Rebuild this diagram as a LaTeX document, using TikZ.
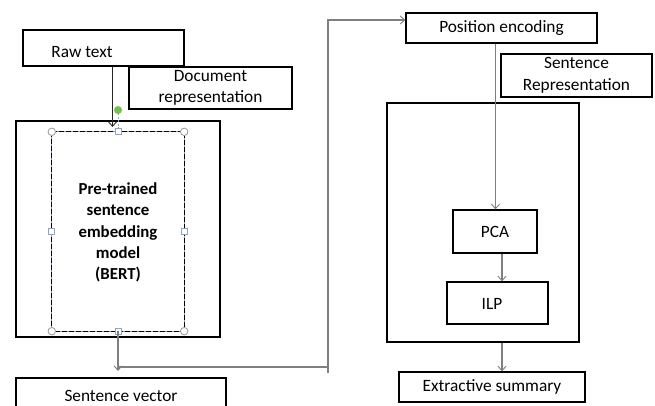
\documentclass[tikz,border=0pt]{standalone}
\usepackage{fontspec}
\setmainfont{Carlito}
\usetikzlibrary{arrows.meta}
\definecolor{linkgray}{HTML}{7F7F7F}
\definecolor{handleblue}{HTML}{8EA4C0}
\definecolor{handlegreen}{HTML}{74C04E}
\tikzset{
  box/.style={draw=black, line width=1.3pt, inner sep=0pt, font=\fontsize{17.3}{21.5}\selectfont, align=center},
  plain/.style={inner sep=0pt, font=\fontsize{17.3}{21.5}\selectfont, align=center},
  link/.style={draw=linkgray, line width=1.1pt, -{Straight Barb[length=4.5pt,width=8pt,line width=0.9pt]}},
  darklink/.style={draw=black!85, line width=0.9pt, -{Straight Barb[length=4.5pt,width=8pt,line width=0.9pt]}},
  cornerhandle/.style={circle, draw=linkgray!80, fill=white, line width=0.8pt, minimum size=7.5pt, inner sep=0pt},
  sidehandle/.style={rectangle, draw=handleblue, fill=white, line width=0.9pt, minimum size=6pt, inner sep=0pt},
}
\begin{document}
\begin{tikzpicture}[x=1pt,y=-1pt]
\useasboundingbox (0,0) rectangle (655,406);
\begin{scope}
\clip (0,0) rectangle (655,406);

% left column
\node[box, minimum width=161pt, minimum height=36pt] (raw) at (103.5,48) {};
\node[plain] (rawlabel) at (82,52) {Raw text};
\node[box, minimum width=163pt, minimum height=42pt] (docrep) at (210.5,88) {Document\\representation};
\node[box, minimum width=204pt, minimum height=216pt] (encoder) at (118,229) {};
\node[minimum width=132pt, minimum height=199pt, inner sep=0pt] (bert) at (118,231.5) {};
\draw[handleblue, line width=0.9pt] (bert.north west) rectangle (bert.south east);
\draw[black, line width=1pt, dash pattern=on 5pt off 2pt] (bert.north west) rectangle (bert.south east);
\node[plain, font=\fontsize{16.8}{21.2}\selectfont\bfseries] (bertlabel) at (118,232.5)
  {Pre-trained\\sentence\\embedding\\model\\(BERT)};
\node[box, minimum width=210pt, minimum height=36pt] (sentvec) at (121,396) {Sentence vector};

% selection handles of the model box
\coordinate (rot) at (118,110);
\draw[handleblue, line width=0.9pt, dash pattern=on 2pt off 1.5pt] (rot) -- (bert.north);
\node[circle, fill=handlegreen, minimum size=8pt, inner sep=0pt] (rothandle) at (rot) {};
\foreach \c in {north west, north east, south west, south east}
  \node[cornerhandle] at (bert.\c) {};
\foreach \s in {north, south, west, east}
  \node[sidehandle] at (bert.\s) {};

% right column
\node[box, minimum width=191pt, minimum height=30pt] (posenc) at (501.5,28) {Position encoding};
\node[box, minimum width=151pt, minimum height=43pt] (sentrep) at (576.5,75.5) {Sentence\\Representation};
\node[box, minimum width=192pt, minimum height=239pt] (selector) at (483,222.5) {};
\node[box, minimum width=84pt, minimum height=43pt] (pca) at (495,231.5) {PCA};
\node[box, minimum width=101pt, minimum height=42pt] (ilp) at (497.5,303) {};
\node[plain] (ilplabel) at (492,304) {ILP};
\node[box, minimum width=186pt, minimum height=30pt] (summary) at (492,387) {Extractive summary};

% connectors
\coordinate (turn) at (328,367);
\coordinate (rise) at (328,20);
\draw[darklink] (raw.south -| 112.5,0) -- (112.5,127);
\draw[link] (bert.south) -- (bert.south |- 0,371);
\draw[linkgray, line width=1.1pt] (bert.south |- turn) -- (turn) -- (328,373);
\draw[link] (turn) -- (rise) -- (posenc.west |- rise);
\draw[link] (posenc.south -| 495.5,0) -- (pca.north -| 495.5,0);
\draw[link] (pca.south -| 502,0) -- (ilp.north -| 502,0);
\draw[link] (selector.south -| 502,0) -- (summary.north -| 502,0);
\end{scope}
\end{tikzpicture}
\end{document}
